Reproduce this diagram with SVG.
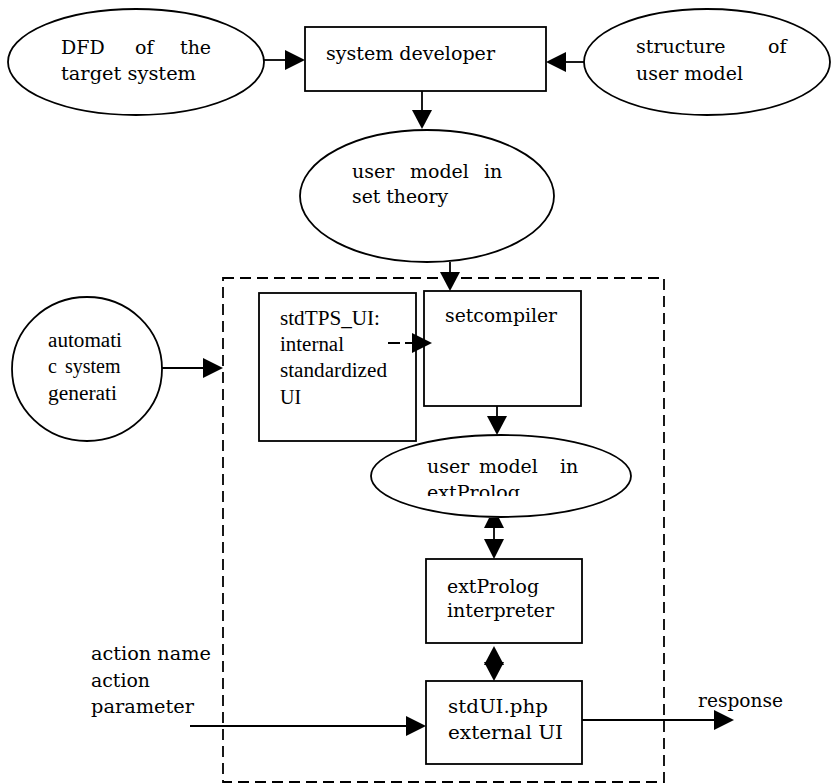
<svg xmlns="http://www.w3.org/2000/svg" width="833" height="784" viewBox="0 0 833 784">
<style>
.shape{fill:#fff;stroke:#000;stroke-width:1.8}
.ln{fill:none;stroke:#000;stroke-width:1.8}
.dash{fill:none;stroke:#000;stroke-width:1.8;stroke-dasharray:11,6}
.head{fill:#000;stroke:none}
.t{font-family:"DejaVu Serif","Liberation Serif",serif;font-size:19px;fill:#000}
.tt{font-family:"Liberation Serif","Times New Roman",serif;font-size:20px;fill:#000}
</style>
<defs>
<clipPath id="clipExt"><rect x="370" y="430" width="270" height="66"/></clipPath>
</defs>
<rect width="833" height="784" fill="#fff"/>

<g id="boundary">
<rect class="dash" x="223" y="278" width="441" height="504"/>
</g>

<g id="dfd">
<ellipse class="shape" cx="136" cy="62" rx="128" ry="53"/>
<text class="t" y="54"><tspan x="61">DFD</tspan><tspan x="135">of</tspan><tspan x="180">the</tspan></text>
<text class="t" x="61" y="80" textLength="135" lengthAdjust="spacingAndGlyphs">target system</text>
</g>

<g id="system-developer">
<rect class="shape" x="305" y="27" width="241" height="64"/>
<text class="t" x="326" y="60" textLength="169" lengthAdjust="spacingAndGlyphs">system developer</text>
</g>

<g id="structure">
<ellipse class="shape" cx="707" cy="62" rx="123" ry="53"/>
<text class="t" y="53"><tspan x="636">structure</tspan><tspan x="768">of</tspan></text>
<text class="t" x="636" y="80" textLength="107" lengthAdjust="spacingAndGlyphs">user model</text>
</g>

<g id="user-model-set">
<ellipse class="shape" cx="427" cy="196" rx="127" ry="66"/>
<text class="t" y="178"><tspan x="352">user</tspan><tspan x="410">model</tspan><tspan x="484">in</tspan></text>
<text class="t" x="352" y="203" textLength="96" lengthAdjust="spacingAndGlyphs">set theory</text>
</g>

<g id="automatic">
<ellipse class="shape" cx="87" cy="369" rx="75" ry="72"/>
<text class="tt" x="48" y="347" textLength="74" lengthAdjust="spacingAndGlyphs">automati</text>
<text class="tt" y="373"><tspan x="48">c</tspan><tspan x="65">system</tspan></text>
<text class="tt" x="48" y="400" textLength="69" lengthAdjust="spacingAndGlyphs">generati</text>
</g>

<g id="stdTPS_UI">
<rect class="shape" x="259" y="293" width="157" height="148"/>
<text class="tt" x="280" y="325" textLength="100" lengthAdjust="spacingAndGlyphs">stdTPS_UI:</text>
<text class="tt" x="280" y="351" textLength="64" lengthAdjust="spacingAndGlyphs">internal</text>
<text class="tt" x="280" y="377" textLength="107" lengthAdjust="spacingAndGlyphs">standardized</text>
<text class="tt" x="280" y="404">UI</text>
</g>

<g id="setcompiler">
<rect class="shape" x="424" y="291" width="157" height="115"/>
<text class="t" x="445" y="322" textLength="112" lengthAdjust="spacingAndGlyphs">setcompiler</text>
</g>

<g id="user-model-extprolog">
<ellipse class="shape" cx="501" cy="476" rx="130" ry="41"/>
<text class="t" y="473"><tspan x="427">user</tspan><tspan x="479">model</tspan><tspan x="560">in</tspan></text>
<text class="t" x="427" y="499" clip-path="url(#clipExt)" textLength="93" lengthAdjust="spacingAndGlyphs">extProlog</text>
</g>

<g id="interpreter">
<rect class="shape" x="426" y="559" width="156" height="84"/>
<text class="t" x="447" y="593" textLength="92" lengthAdjust="spacingAndGlyphs">extProlog</text>
<text class="t" x="447" y="617" textLength="107" lengthAdjust="spacingAndGlyphs">interpreter</text>
</g>

<g id="stdUI">
<rect class="shape" x="426" y="681" width="156" height="83"/>
<text class="t" x="448" y="713" textLength="100" lengthAdjust="spacingAndGlyphs">stdUI.php</text>
<text class="t" x="448" y="739" textLength="115" lengthAdjust="spacingAndGlyphs">external UI</text>
</g>

<g id="input-label">
<text class="t" x="91" y="660" textLength="120" lengthAdjust="spacingAndGlyphs">action name</text>
<text class="t" x="91" y="687" textLength="59" lengthAdjust="spacingAndGlyphs">action</text>
<text class="t" x="91" y="713" textLength="103" lengthAdjust="spacingAndGlyphs">parameter</text>
</g>

<g id="response-label">
<text class="t" x="698" y="707" textLength="85" lengthAdjust="spacingAndGlyphs">response</text>
</g>

<g id="connectors">
<!-- DFD -> system developer -->
<line class="ln" x1="263" y1="60" x2="287" y2="60"/>
<polygon class="head" points="305,60 285,50 285,70"/>
<!-- structure -> system developer -->
<line class="ln" x1="584" y1="62" x2="564" y2="62"/>
<polygon class="head" points="546,62 566,52 566,72"/>
<!-- system developer -> user model in set theory -->
<line class="ln" x1="422" y1="91" x2="422" y2="112"/>
<polygon class="head" points="422,129 412,110 432,110"/>
<!-- set theory -> setcompiler -->
<line class="ln" x1="450" y1="262" x2="450" y2="273"/>
<polygon class="head" points="450,291 440,272 460,272"/>
<!-- automatic -> boundary -->
<line class="ln" x1="162" y1="368" x2="205" y2="368"/>
<polygon class="head" points="223,368 203,358 203,378"/>
<!-- stdTPS_UI -> setcompiler (dashed) -->
<line class="ln" x1="388" y1="343" x2="414" y2="343" style="stroke-dasharray:12,5"/>
<polygon class="head" points="432,343 412,333 412,353"/>
<!-- setcompiler -> extProlog model -->
<line class="ln" x1="497" y1="406" x2="497" y2="418"/>
<polygon class="head" points="497,435 487,416 507,416"/>
<!-- extProlog model <-> interpreter -->
<polygon class="head" points="489,518 499,518 504,528 484,528"/>
<line class="ln" x1="494" y1="520" x2="494" y2="541"/>
<polygon class="head" points="494,559 484,539 504,539"/>
<!-- interpreter <-> stdUI -->
<polygon class="head" points="494,646 484,665 504,665"/>
<polygon class="head" points="494,681 484,662 504,662"/>
<!-- input -> stdUI -->
<line class="ln" x1="190" y1="726" x2="408" y2="726"/>
<polygon class="head" points="426,726 406,716 406,736"/>
<!-- stdUI -> response -->
<line class="ln" x1="582" y1="720" x2="716" y2="720"/>
<polygon class="head" points="734,720 714,710 714,730"/>
</g>
</svg>
